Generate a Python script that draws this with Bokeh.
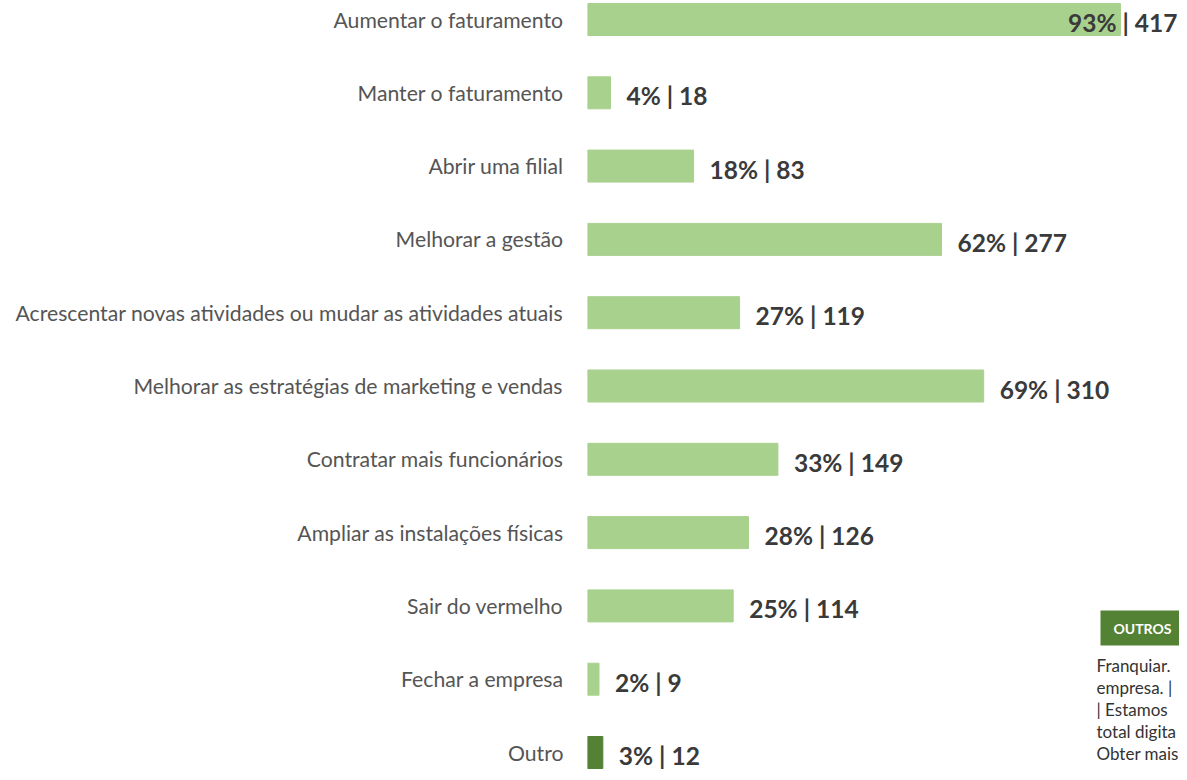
from bokeh.plotting import figure
from bokeh.models import Range1d, FixedTicker, ColumnDataSource, Label, BoxAnnotation
from bokeh.embed import file_html
from bokeh.resources import INLINE
from bokeh.core.properties import value

categories = [
    "Aumentar o faturamento",
    "Manter o faturamento",
    "Abrir uma filial",
    "Melhorar a gestão",
    "Acrescentar novas atividades ou mudar as atividades atuais",
    "Melhorar as estratégias de marketing e vendas",
    "Contratar mais funcionários",
    "Ampliar as instalações físicas",
    "Sair do vermelho",
    "Fechar a empresa",
    "Outro",
]
counts = [417, 18, 83, 277, 119, 310, 149, 126, 114, 9, 12]
percents = [93, 4, 18, 62, 27, 69, 33, 28, 25, 2, 3]
side_title = "OUTROS"
side_lines = ["Franquiar.", "empresa. |", "| Estamos", "total digita", "Obter mais"]

LIGHT = "#A9D18E"
DARK = "#548235"
FONT = "Lato"

n = len(categories)
ys = [n - 1 - i for i in range(n)]
colors = [DARK if c == "Outro" else LIGHT for c in categories]
labels = [f"{p}% | {c}" for p, c in zip(percents, counts)]

W, H = 1179, 772
LEFT = 587
PX_PER_COUNT = 1.278
TOP_CENTER, BOTTOM_CENTER = 19, 752
ROW = (BOTTOM_CENTER - TOP_CENTER) / (n - 1)
x_end = (W - LEFT) / PX_PER_COUNT
y_end = (n - 1) + TOP_CENTER / ROW
y_start = y_end - H / ROW

p = figure(width=W, height=H, output_backend="svg", toolbar_location=None,
           x_range=Range1d(0, x_end), y_range=Range1d(y_start, y_end),
           min_border_left=LEFT, min_border_right=0, min_border_top=0, min_border_bottom=0,
           outline_line_color=None, background_fill_color="white", border_fill_color="white")
p.grid.visible = False
p.xaxis.visible = False

src = ColumnDataSource(dict(y=ys, count=counts, color=colors, label=labels))
p.hbar(y="y", left=0, right="count", height=32 / ROW, color="color", source=src)

# labels: clamp those that would overflow the right edge
limit = x_end - 130 / PX_PER_COUNT
normal = ColumnDataSource(dict(
    x=[c for c in counts if c <= limit], y=[y for y, c in zip(ys, counts) if c <= limit],
    t=[l for l, c in zip(labels, counts) if c <= limit]))
clamped = ColumnDataSource(dict(
    x=[x_end for c in counts if c > limit], y=[y for y, c in zip(ys, counts) if c > limit],
    t=[l for l, c in zip(labels, counts) if c > limit]))
common = dict(text_baseline="middle", text_font=value(FONT), text_font_style="bold",
              text_font_size="24.5px", text_color="#3a3a3a", y_offset=3)
p.text(x="x", y="y", text="t", source=normal, x_offset=16, text_align="left", **common)
p.text(x="x", y="y", text="t", source=clamped, x_offset=-2, text_align="right", **common)

ax = p.yaxis[0]
ax.ticker = FixedTicker(ticks=ys)
ax.major_label_overrides = {y: c for y, c in zip(ys, categories)}
ax.axis_line_color = None
ax.major_tick_line_color = None
ax.minor_tick_line_color = None
ax.major_tick_out = 0
ax.major_tick_in = 0
ax.major_label_standoff = 24
ax.major_label_text_font = FONT
ax.major_label_text_font_size = "21.2px"
ax.major_label_text_color = "#555555"

# side note (partly hidden at the right edge in the source), placed by picture pixels
def px_x(px):
    return (px - LEFT) / PX_PER_COUNT

def px_y(py):
    return y_end - py / ROW

p.add_layout(BoxAnnotation(left=px_x(1100), right=x_end, top=px_y(610), bottom=px_y(645),
                           fill_color=DARK, fill_alpha=1, line_color=None))
p.add_layout(Label(x=px_x(1113), y=px_y(628), text=side_title, text_font=FONT,
                   text_font_style="bold", text_font_size="14px", text_color="white",
                   text_baseline="middle"))
for i, line in enumerate(side_lines):
    p.add_layout(Label(x=px_x(1096), y=px_y(665 + 22 * i), text=line, text_font=FONT,
                       text_font_size="17px", text_color="#333333", text_baseline="middle"))

open("out.html", "w").write(file_html(p, INLINE))
